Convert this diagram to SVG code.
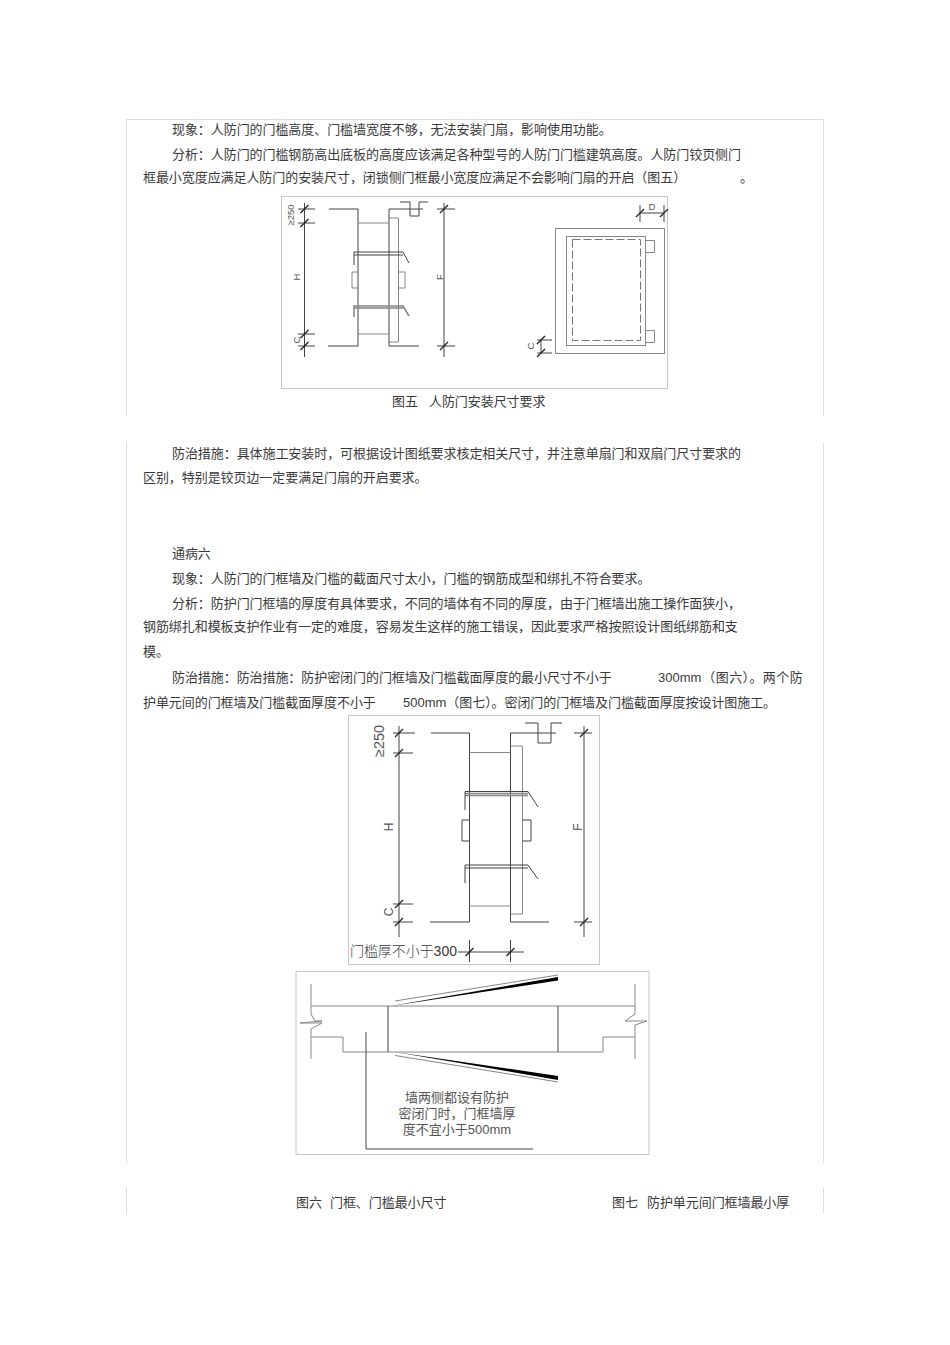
<svg xmlns="http://www.w3.org/2000/svg" width="950" height="1345" viewBox="0 0 950 1345">
<defs>
<filter id="soft" x="-5%" y="-5%" width="110%" height="110%"><feGaussianBlur stdDeviation="0.35"/></filter>
<g id="tick"><line x1="-4" y1="4" x2="4" y2="-4" stroke="#222" stroke-width="1.3"/></g>
</defs>
<style>
text{font-family:"Noto Sans CJK SC","Liberation Sans",sans-serif;font-size:13px;fill:#3a3a3a;font-weight:400;letter-spacing:-0.07px}
.en{font-family:"Liberation Sans","Noto Sans CJK SC",sans-serif;font-weight:400;letter-spacing:0}
.d{font-family:"Liberation Sans","Noto Sans CJK SC",sans-serif;font-weight:400;font-size:9.500px;fill:#555;text-anchor:middle;letter-spacing:0}
.dl{font-size:12px}
.big{font-size:14.500px}
.tight{font-family:"Liberation Sans","Noto Sans CJK SC",sans-serif;text-anchor:middle;fill:#555;letter-spacing:0}
.page{fill:none;stroke:#dcdcdc;stroke-width:1}
.box{fill:#fff;stroke:#c8c8c8;stroke-width:1}
.l{fill:none;stroke:#444;stroke-width:1}
.g{fill:none;stroke:#888;stroke-width:1}
.t{fill:none;stroke:#888;stroke-width:1.6}
.dash{fill:none;stroke:#777;stroke-width:1;stroke-dasharray:8 3}
</style>
<rect width="950" height="1345" fill="#fff"/>

<g id="page-frames">
<path class="page" d="M126.500 416V119.500H823.500V416"/>
<path class="page" d="M126.500 443V1163M823.500 443V1163"/>
<path class="page" d="M126.500 1188V1213M823.500 1188V1213"/>
</g>

<g id="body-text">
<text x="172" y="134">现象：人防门的门槛高度、门槛墙宽度不够，无法安装门扇，影响使用功能。</text>
<text x="172" y="159">分析：人防门的门槛钢筋高出底板的高度应该满足各种型号的人防门门槛建筑高度。人防门铰页侧门</text>
<text x="143" y="182">框最小宽度应满足人防门的安装尺寸，闭锁侧门框最小宽度应满足不会影响门扇的开启（图五）</text>
<text x="740" y="182">。</text>
<text x="392" y="406">图五</text>
<text x="429" y="406">人防门安装尺寸要求</text>
<text x="172" y="458">防治措施：具体施工安装时，可根据设计图纸要求核定相关尺寸，并注意单扇门和双扇门尺寸要求的</text>
<text x="143" y="482">区别，特别是铰页边一定要满足门扇的开启要求。</text>
<text x="172" y="558">通病六</text>
<text x="172" y="583">现象：人防门的门框墙及门槛的截面尺寸太小，门槛的钢筋成型和绑扎不符合要求。</text>
<text x="172" y="608">分析：防护门门框墙的厚度有具体要求，不同的墙体有不同的厚度，由于门框墙出施工操作面狭小，</text>
<text x="143" y="631">钢筋绑扎和模板支护作业有一定的难度，容易发生这样的施工错误，因此要求严格按照设计图纸绑筋和支</text>
<text x="143" y="656">模。</text>
<text x="172" y="682">防治措施：防治措施：防护密闭门的门框墙及门槛截面厚度的最小尺寸不小于</text>
<text x="658" y="682"><tspan class="en">300mm</tspan><tspan dx="1" style="letter-spacing:0.4px">（图六）。两个防</tspan></text>
<text x="143" y="707">护单元间的门框墙及门槛截面厚度不小于</text>
<text x="403" y="707"><tspan class="en">500mm</tspan>（图七）。密闭门的门框墙及门槛截面厚度按设计图施工。</text>
<text x="296" y="1207">图六</text>
<text x="330" y="1207">门框、门槛最小尺寸</text>
<text x="612" y="1207">图七</text>
<text x="647" y="1207">防护单元间门框墙最小厚</text>
</g>

<g id="figure-5-section">
<rect class="box" x="281.500" y="196.500" width="386" height="192"/>
<g filter="url(#soft)">
<path class="l" d="M304.500 203V357M298 209H315M298 223H315M298 334H315M298 346H315"/>
<use href="#tick" x="304.500" y="209"/><use href="#tick" x="304.500" y="223"/><use href="#tick" x="304.500" y="334"/><use href="#tick" x="304.500" y="346"/>
<path class="l" d="M329 209H358V346H328M423 209H389V346H419"/>
<path class="l" d="M400 202H410V216H419V202H428"/>
<path class="g" d="M389 218H398.500V342H389M358 223H389M358 334H389"/>
<path class="l" d="M354 265V252H403L409 263M354 255H403"/>
<path class="t" d="M354 317V306H403L409 316M354 308H403"/>
<path class="g" d="M358 272H352V288H358M398.500 272H405V288H398.500"/>
<path class="l" d="M444 203V357M437 209H455M437 346H455"/>
<use href="#tick" x="444" y="209"/><use href="#tick" x="444" y="346"/>
</g>
<text class="d" transform="translate(294 215) rotate(-90)">≥250</text>
<text class="d" transform="translate(300 277) rotate(-90)">H</text>
<text class="d" transform="translate(300 340) rotate(-90)">C</text>
<text class="d" transform="translate(443 277) rotate(-90)">F</text>
</g>

<g id="figure-5-elevation">
<g filter="url(#soft)">
<rect class="g" x="555.500" y="228.500" width="109" height="125"/>
<rect class="g" x="566.500" y="236.500" width="79" height="109" stroke-width="1.300"/>
<rect class="dash" x="572.500" y="239.500" width="68" height="101"/>
<path class="g" d="M645.500 240.500H654.500V252.500H645.500M645.500 330.500H654.500V342.500H645.500"/>
<path class="l" d="M640 213H664M640 205V222M664 205V222"/>
<use href="#tick" x="640" y="213"/><use href="#tick" x="664" y="213"/>
<path class="l" d="M541 340V353M537 340H552M537 353H552"/>
<use href="#tick" x="541" y="340"/><use href="#tick" x="541" y="353"/>
</g>
<text class="d" x="652" y="209.500">D</text>
<text class="d" transform="translate(534 346) rotate(-90)">C</text>
</g>

<g id="figure-6">
<rect class="box" x="348.500" y="715.500" width="251" height="249"/>
<g filter="url(#soft)">
<path class="l" d="M399 726V937M393 733H415M393 753H413M393 904H413M393 922H413"/>
<use href="#tick" x="399" y="733"/><use href="#tick" x="399" y="753"/><use href="#tick" x="399" y="904"/><use href="#tick" x="399" y="922"/>
<path class="l" d="M431 733H469.500V922H430M556 733H510.500V922H549"/>
<path class="l" d="M525 723H538V743H551V723H562"/>
<path class="g" d="M510.500 746H522.500V914H510.500M469.500 752.500H510.500M469.500 906H510.500"/>
<path class="t" d="M465 793.500H528M465 795.500H528"/>
<path class="l" d="M465 810V791.500H528L538 807"/>
<path class="l" d="M465 883V865H528L538 879M465 868H528"/>
<path class="l" d="M469 820H462V841H469M522.500 820H531V841H522.500"/>
<path class="l" d="M584 726V937M574 733H592M574 922H592"/>
<use href="#tick" x="584" y="733"/><use href="#tick" x="584" y="922"/>
<path class="l" d="M469.500 940V962M510.500 940V962M458 952H524"/>
<use href="#tick" x="469.500" y="952"/><use href="#tick" x="510.500" y="952"/>
</g>
<text class="d big" transform="translate(384 741) rotate(-90)">≥250</text>
<text class="d dl" transform="translate(393 827) rotate(-90)">H</text>
<text class="d dl" transform="translate(393 912) rotate(-90)">C</text>
<text class="d dl" transform="translate(582 827) rotate(-90)">F</text>
<text x="350" y="956" style="font-size:14px;font-weight:300">门槛厚不小于<tspan class="en">300</tspan></text>
</g>

<g id="figure-7">
<rect class="box" x="296" y="971.500" width="353" height="183"/>
<g filter="url(#soft)">
<path class="g" d="M311 984V1014L315 1021L322 1021L300 1023H322L311 1029V1059"/>
<path class="g" d="M635 984V1014L625 1021H647L635 1025V1059"/>
<path class="g" d="M311 1006H635M311 1037H343V1052H603V1037H635"/>
<path class="l" d="M388 1006V1052M558 1006V1052"/>
<polygon points="388,1006.500 558,977 558,980.500" fill="#000"/>
<path class="g" d="M395 1001L558 975"/>
<polygon points="395,1052 558,1076 558,1080" fill="#000"/>
<path class="g" d="M395 1055.500L558 1082"/>
<path class="l" d="M366 1032V1149H533"/>
</g>
<text class="tight" x="457" y="1102">墙两侧都设有防护</text>
<text class="tight" x="457" y="1118">密闭门时，门框墙厚</text>
<text class="tight" x="457" y="1134">度不宜小于500mm</text>
</g>
</svg>
